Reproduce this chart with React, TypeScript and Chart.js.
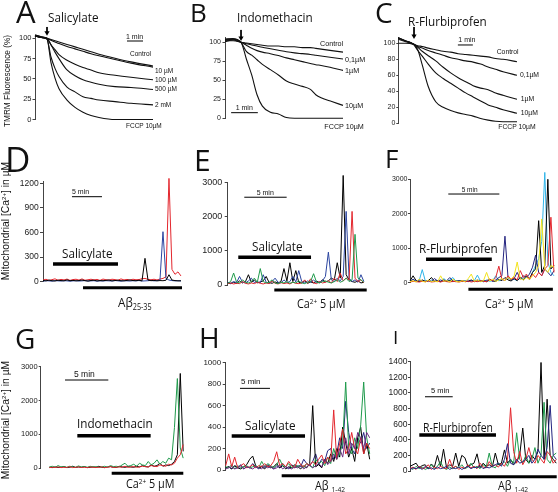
import React, { useEffect, useRef } from "react";
import { Chart, registerables } from "chart.js";

Chart.register(...registerables);

const PAGE_W = 558;
const PAGE_H = 492;
const AXIS_W = 30;
const FONT_OS = '"Open Sans", "Noto Sans", sans-serif';
const FONT_LS = '"Liberation Sans", Arial, Helvetica, sans-serif';

const RED = "#e3262d";
const GREEN = "#1e9a4b";
const BLUE = "#2b45a0";
const NAVY = "#23237f";
const YELLOW = "#f3e21b";
const CYAN = "#2fb4e8";
const PURPLE = "#6b2b80";
const BLACK = "#000000";

// ---------- Panel A: TMRM, salicylate ----------
const aTime = [0, 0.4, 0.75, 1, 1.25, 1.5, 2, 2.5, 3, 3.5, 4, 5, 6, 7.375];
const aControl = [104, 102, 100, 98.5, 97, 95.5, 92.5, 89.5, 86.5, 83.5, 80.5, 75.5, 71, 66];
const a10uM = [103, 101, 100, 97.5, 95.5, 93.5, 90, 87, 84, 81, 78.5, 74, 69.5, 64.5];
const a100uM = [103, 101, 100, 92, 86, 80, 73, 68, 64, 61, 57.5, 54.5, 52, 49];
const a500uM = [104, 102, 100, 92, 83, 75, 61, 54, 49, 46, 43.5, 40.5, 39.5, 37];
const a2mM = [103, 101, 99, 77, 63, 53, 40, 34, 28, 26, 24, 22, 20, 18];
const aFCCP = [103, 101, 99, 70, 51, 38, 24, 15, 9, 5, 2.5, 0, 0, 0];
const aTicks = [0, 25, 50, 75, 100];
const aArrow = [0.75, 114, 107];
const aMinBar = [5.75, 6.75, 96.7];

// ---------- Panel B: TMRM, indomethacin ----------
const bTime = [0, 0.3, 0.6, 0.8, 1.0, 1.2, 1.4, 1.7, 2.0, 2.3, 2.6, 2.9, 3.2, 3.4, 3.6, 4.0, 4.42];
const bControl = [101, 103, 100, 99, 98, 97, 96, 95, 95, 94, 94, 93, 93, 92, 91, 89, 87];
const b01uM = [102, 102, 100, 98, 96.5, 95, 93.5, 91.5, 89.5, 87.5, 86, 85, 84, 83, 82, 80, 78];
const b1uM = [103, 104, 100, 96, 92, 89, 87, 85, 82.5, 79.5, 77, 74.5, 72, 70.5, 69.5, 66.5, 63];
const b10uM = [104, 105, 100, 88, 83, 77, 71, 64, 57, 49, 45, 42, 38, 31, 27, 22, 17];
const bFCCP = [104, 104, 100, 78, 57, 31, 16, 8, 5.7, 1, 0, 0, 0, 0, 0, 0, 0];
const bTicks = [0, 25, 50, 75, 100];
const bArrow = [0.6, 116.2, 105.7];
const bMinBar = [0.23, 1.23, 7.4];

// ---------- Panel C: TMRM, R-flurbiprofen ----------
const cTime = [0, 0.5, 1.0, 1.3, 1.6, 2.0, 2.5, 3, 3.5, 4, 4.5, 5, 5.5, 6, 6.5, 7, 7.93];
const cControl = [100, 100, 99, 97, 96, 94, 92, 90, 89, 87, 86, 85, 84, 83, 81, 80, 77];
const c01uM = [105, 102, 99, 96, 94, 91, 88, 85, 82, 80, 78, 76.5, 74, 70.5, 67.5, 64.5, 60];
const c1uM = [107, 103, 99, 95, 90, 84.5, 78, 70, 63, 57, 52, 47, 44, 42, 38, 35, 30];
const c10uM = [106, 103, 99, 91, 84, 74, 63, 56, 50, 44, 38, 33, 28, 23, 20, 17, 12.5];
const cFCCP = [107, 103, 99, 92, 73, 46, 27, 20, 16, 13, 11, 9, 6, 4, 2.5, 2, 2];
const cTicks = [0, 20, 40, 60, 80, 100];
const cArrow = [1.05, 120.4, 109];
const cMinBar = [3.98, 4.98, 97.9];

// ---------- Panel D: Ca, salicylate + Abeta25-35 (sample 0.5 min) ----------
const dStart = 0;
const dStep = 0.5;
const dBlack = [15, 10, 20, 12, 8, 18, 14, 10, 22, 12, 16, 10, 14, 20, 12, 8, 15, 18, 10, 14, 12, 16, 20, 10, 14, 18, 12, 10, 16, 20, 14, 12, 18, 10, 285, 20, 12, 16, 10, 14, 12, 18, 85, 20, 14, 10, 12];
const dBlue = [8, 12, 10, 6, 14, 10, 8, 12, 10, 6, 10, 12, 8, 10, 14, 8, 10, 12, 6, 10, 8, 12, 10, 8, 14, 10, 6, 12, 10, 8, 12, 10, 14, 8, 10, 12, 16, 10, 14, 20, 610, 40, 20, 14, 10, 12, 8];
const dRed = [20, 30, 15, 25, 35, 18, 28, 22, 32, 16, 26, 30, 20, 34, 18, 24, 30, 22, 28, 16, 32, 24, 20, 30, 26, 18, 34, 22, 28, 20, 30, 24, 26, 36, 40, 28, 24, 30, 22, 32, 40, 60, 1260, 150, 90, 120, 70];
const dTicks = [0, 300, 600, 900, 1200];
const dScaleBar = [4.83, 9.83, 1037];
const dDrugBar = [1.67, 12.5, 216];
const dAbBar = [6.67, 23.17, -73];

// ---------- Panel E: Ca, salicylate + Ca 5 uM (sample 0.35 min) ----------
const eStart = 0;
const eStep = 0.35;
const eBlack = [60, 40, 80, 50, 120, 60, 100, 300, 80, 150, 60, 90, 120, 250, 70, 50, 90, 60, 100, 480, 120, 650, 100, 420, 80, 60, 120, 50, 90, 60, 110, 70, 150, 90, 120, 200, 150, 650, 200, 3200, 300, 150, 100, 80, 120, 60, 80];
const eBlue = [80, 50, 100, 70, 250, 80, 60, 120, 200, 70, 100, 60, 300, 80, 50, 100, 200, 80, 60, 150, 70, 100, 250, 90, 420, 100, 60, 120, 80, 150, 60, 90, 120, 250, 960, 150, 100, 200, 120, 250, 2150, 200, 100, 150, 80, 300, 100];
const eRed = [40, 60, 30, 50, 40, 100, 50, 30, 60, 40, 80, 50, 30, 60, 40, 120, 50, 30, 70, 40, 60, 30, 80, 50, 40, 60, 150, 50, 180, 60, 40, 100, 60, 80, 120, 60, 200, 100, 350, 120, 200, 150, 2150, 200, 100, 150, 60];
const eGreen = [50, 100, 350, 80, 60, 150, 80, 60, 100, 200, 80, 480, 100, 60, 80, 150, 60, 40, 80, 60, 100, 50, 80, 60, 120, 60, 40, 80, 100, 330, 80, 60, 100, 120, 80, 60, 100, 150, 80, 120, 200, 100, 150, 1480, 200, 150, 80];
const eTicks = [0, 1000, 2000, 3000];
const eScaleBar = [1.96, 6.97, 2564];
const eDrugBar = [1.25, 9.85, 810];
const eCaBar = [5.51, 16.43, -146];

// ---------- Panel F: Ca, R-flurbiprofen + Ca 5 uM (sample 0.3 min) ----------
const fStart = 0;
const fStep = 0.3;
const fBlack = [50, 200, 60, 30, 80, 40, 60, 150, 40, 60, 30, 80, 40, 60, 30, 50, 40, 60, 30, 40, 80, 30, 50, 40, 60, 30, 80, 50, 40, 100, 60, 150, 80, 50, 120, 60, 150, 80, 200, 100, 300, 400, 1800, 300, 500, 3000, 400, 500];
const fNavy = [30, 100, 40, 80, 50, 30, 60, 40, 120, 50, 80, 40, 60, 150, 50, 30, 60, 40, 50, 30, 60, 40, 80, 50, 30, 60, 100, 40, 80, 150, 200, 1350, 150, 80, 120, 300, 100, 200, 150, 250, 450, 800, 300, 200, 400, 300, 200, 350];
const fRed = [20, 40, 30, 20, 40, 30, 50, 20, 30, 40, 20, 50, 30, 20, 40, 30, 20, 40, 30, 50, 20, 40, 30, 60, 40, 30, 100, 60, 150, 480, 100, 60, 200, 100, 150, 80, 350, 150, 250, 100, 250, 150, 300, 200, 400, 500, 1900, 300];
const fYellow = [30, 60, 20, 100, 40, 20, 80, 30, 50, 20, 200, 40, 60, 20, 100, 40, 20, 60, 30, 120, 250, 40, 80, 30, 60, 300, 50, 100, 40, 80, 120, 60, 150, 100, 200, 600, 120, 80, 150, 100, 200, 300, 500, 1850, 400, 300, 500, 450];
const fCyan = [40, 100, 30, 60, 380, 50, 30, 80, 40, 60, 30, 120, 50, 80, 150, 40, 60, 30, 50, 80, 40, 60, 220, 50, 30, 80, 40, 60, 200, 50, 100, 60, 150, 80, 100, 60, 150, 100, 200, 120, 300, 500, 700, 1200, 3200, 600, 300, 200];
const fTicks = [0, 1000, 2000, 3000];
const fScaleBar = [3.75, 8.75, 2573];
const fDrugBar = [1.57, 8.01, 679];
const fCaBar = [5.72, 13.99, -191];

// ---------- Panel G: Ca, indomethacin + Ca 5 uM (sample 0.336 min from 1 min) ----------
const gStart = 1.0;
const gStep = 0.336;
const gBlack = [30, 20, 40, 25, 30, 50, 20, 30, 60, 25, 40, 30, 50, 20, 30, 40, 25, 60, 30, 20, 40, 50, 30, 25, 60, 40, 30, 50, 40, 30, 60, 40, 80, 50, 40, 100, 60, 80, 150, 60, 100, 80, 120, 200, 400, 2800, 500];
const gRed = [20, 30, 25, 40, 20, 30, 25, 50, 20, 30, 40, 25, 30, 20, 40, 30, 25, 30, 40, 20, 30, 50, 25, 30, 40, 30, 60, 30, 40, 50, 30, 40, 60, 50, 40, 80, 60, 50, 100, 80, 60, 120, 100, 150, 300, 400, 700];
const gGreen = [40, 60, 30, 80, 40, 50, 30, 60, 40, 30, 70, 40, 50, 30, 60, 40, 50, 30, 40, 60, 30, 80, 50, 60, 40, 100, 150, 60, 80, 120, 60, 150, 100, 80, 200, 100, 150, 250, 120, 200, 150, 300, 250, 1200, 2650, 600, 300];
const gTicks = [0, 1000, 2000, 3000];
const gScaleBar = [2.81, 7.81, 2607];
const gDrugBar = [4.23, 12.7, 962];
const gCaBar = [8.2, 16.47, -148];

// ---------- Panel H: Ca, salicylate + Abeta1-42 (sample 0.5 min) ----------
const hStart = 0;
const hStep = 0.5;
const hBlack = [20, 30, 10, 40, 20, 10, 30, 50, 100, 130, 40, 20, 30, 10, 40, 20, 30, 60, 20, 40, 10, 30, 20, 50, 30, 10, 40, 20, 60, 600, 30, 50, 20, 100, 60, 150, 80, 200, 120, 400, 250, 120, 200, 80, 300, 400, 150, 250, 100];
const hRed = [40, 150, 30, 120, 20, 40, 60, 20, 30, 50, 20, 40, 30, 60, 30, 40, 80, 170, 40, 60, 30, 80, 40, 20, 100, 50, 30, 60, 40, 80, 50, 100, 140, 60, 120, 80, 560, 100, 250, 380, 150, 200, 350, 200, 150, 300, 150, 250, 200];
const hGreen = [30, 20, 50, 10, 40, 20, 30, 40, 20, 30, 40, 20, 80, 30, 60, 40, 20, 50, 100, 40, 30, 60, 20, 40, 30, 50, 20, 60, 40, 20, 100, 60, 80, 40, 120, 60, 200, 100, 150, 250, 820, 200, 150, 300, 200, 420, 820, 300, 150];
const hBlue = [20, 30, 10, 40, 20, 50, 10, 30, 20, 60, 30, 10, 40, 20, 50, 30, 10, 40, 20, 60, 30, 10, 50, 20, 40, 30, 100, 60, 40, 80, 150, 50, 100, 80, 180, 200, 100, 150, 300, 200, 640, 350, 200, 150, 300, 250, 350, 200, 250];
const hPurple = [10, 20, 30, 10, 20, 40, 10, 30, 20, 10, 30, 20, 10, 40, 20, 30, 10, 20, 40, 10, 30, 20, 10, 30, 20, 40, 10, 30, 50, 20, 40, 60, 30, 100, 50, 80, 150, 100, 200, 120, 300, 150, 250, 200, 350, 300, 200, 350, 300];
const hTicks = [0, 200, 400, 600, 800, 1000];
const hScaleBar = [2.38, 7.38, 761];
const hDrugBar = [1.0, 13.22, 317];
const hAbBar = [9.33, 24.05, -53];

// ---------- Panel I: Ca, R-flurbiprofen + Abeta1-42 (sample 0.55 min) ----------
const iStart = 0;
const iStep = 0.55;
const iBlack = [60, 80, 100, 40, 70, 80, 30, 90, 50, 200, 60, 280, 40, 80, 60, 230, 60, 200, 170, 60, 80, 100, 220, 40, 100, 60, 80, 50, 230, 80, 100, 270, 100, 150, 80, 120, 200, 550, 150, 100, 200, 150, 250, 1390, 150, 920, 200, 150, 100];
const iRed = [30, 50, 20, 60, 30, 40, 80, 20, 50, 30, 60, 40, 30, 150, 40, 60, 20, 50, 30, 80, 40, 60, 30, 100, 50, 40, 120, 60, 80, 50, 100, 60, 150, 810, 250, 100, 250, 80, 150, 300, 150, 100, 200, 150, 100, 250, 200, 100, 150];
const iGreen = [40, 20, 60, 30, 50, 20, 40, 80, 30, 60, 120, 40, 20, 50, 30, 60, 40, 80, 30, 50, 100, 40, 60, 30, 80, 50, 230, 60, 40, 100, 80, 120, 60, 150, 100, 490, 150, 100, 200, 100, 150, 300, 100, 200, 880, 150, 100, 200, 230];
const iBlue = [20, 40, 30, 50, 20, 60, 30, 40, 20, 50, 30, 40, 60, 20, 40, 30, 50, 20, 40, 60, 30, 50, 40, 70, 30, 50, 40, 60, 80, 100, 60, 150, 350, 100, 80, 150, 100, 120, 150, 200, 100, 150, 280, 200, 150, 300, 840, 200, 150];
const iTicks = [0, 200, 400, 600, 800, 1000, 1200, 1400];
const iScaleBar = [2.71, 7.71, 951];
const iDrugBar = [1.68, 15.52, 461];
const iAbBar = [8.9, 26.48, -73];

// ---------- helpers ----------
const series = (times: number[], values: number[]) => values.map((y, i) => ({ x: times[i], y }));
const sampled = (t0: number, dt: number, values: number[]) => values.map((y, i) => ({ x: t0 + dt * i, y }));

const curve = (times: number[], values: number[]) => ({
  data: series(times, values),
  borderColor: "#111",
  backgroundColor: "#111",
  borderWidth: 1.1,
  pointRadius: 0,
  cubicInterpolationMode: "monotone",
  clip: false,
});

const trace = (t0: number, dt: number, values: number[], color: string) => ({
  data: sampled(t0, dt, values),
  borderColor: color,
  backgroundColor: color,
  borderWidth: 1,
  pointRadius: 0,
  clip: false,
});

const hbar = (bar: number[], width: number) => ({
  data: [
    { x: bar[0], y: bar[2] },
    { x: bar[1], y: bar[2] },
  ],
  borderColor: "#000",
  backgroundColor: "#000",
  borderWidth: width,
  borderCapStyle: "butt",
  pointRadius: 0,
  clip: false,
});

const arrow = (a: number[]) => ({
  data: [
    { x: a[0], y: a[1] },
    { x: a[0], y: a[2] },
  ],
  borderColor: "#000",
  backgroundColor: "#000",
  borderWidth: 1,
  pointRadius: [0, 3],
  pointStyle: "triangle",
  pointRotation: 180,
  pointBorderWidth: 0,
  pointBackgroundColor: "#000",
  clip: false,
});

type Area = { l: number; t: number; r: number; b: number };
type Spec = {
  id: string;
  area: Area;
  xMax: number;
  yMax: number;
  ticks: number[];
  tickSize: number;
  tickLen: number;
  tickPad: number;
  datasets: any[];
};

const specs: Spec[] = [
  {
    id: "A",
    area: { l: 35, t: 35.9, r: 153, b: 119.5 },
    xMax: 7.375,
    yMax: 103,
    ticks: aTicks,
    tickSize: 7.5,
    tickLen: 2.5,
    tickPad: 1,
    datasets: [
      curve(aTime, aControl),
      curve(aTime, a10uM),
      curve(aTime, a100uM),
      curve(aTime, a500uM),
      curve(aTime, a2mM),
      curve(aTime, aFCCP),
      arrow(aArrow),
      hbar(aMinBar, 1),
    ],
  },
  {
    id: "B",
    area: { l: 225, t: 37.7, r: 343, b: 118.3 },
    xMax: 4.42,
    yMax: 106,
    ticks: bTicks,
    tickSize: 7,
    tickLen: 2.5,
    tickPad: 1.5,
    datasets: [
      curve(bTime, bControl),
      curve(bTime, b01uM),
      curve(bTime, b1uM),
      curve(bTime, b10uM),
      curve(bTime, bFCCP),
      arrow(bArrow),
      hbar(bMinBar, 1),
    ],
  },
  {
    id: "C",
    area: { l: 398.3, t: 37.7, r: 517, b: 123.3 },
    xMax: 7.93,
    yMax: 107,
    ticks: cTicks,
    tickSize: 7,
    tickLen: 2,
    tickPad: 1,
    datasets: [
      curve(cTime, cControl),
      curve(cTime, c01uM),
      curve(cTime, c1uM),
      curve(cTime, c10uM),
      curve(cTime, cFCCP),
      arrow(cArrow),
      hbar(cMinBar, 1),
    ],
  },
  {
    id: "D",
    area: { l: 43, t: 181.7, r: 182, b: 281.7 },
    xMax: 23.17,
    yMax: 1220,
    ticks: dTicks,
    tickSize: 8.5,
    tickLen: 3,
    tickPad: 1.3,
    datasets: [
      trace(dStart, dStep, dBlack, BLACK),
      trace(dStart, dStep, dBlue, BLUE),
      trace(dStart, dStep, dRed, RED),
      hbar(dScaleBar, 1),
      hbar(dDrugBar, 3.5),
      hbar(dAbBar, 3),
    ],
  },
  {
    id: "E",
    area: { l: 227.7, t: 182.3, r: 366.7, b: 285 },
    xMax: 16.43,
    yMax: 3000,
    ticks: eTicks,
    tickSize: 9,
    tickLen: 3,
    tickPad: 2.5,
    datasets: [
      trace(eStart, eStep, eGreen, GREEN),
      trace(eStart, eStep, eRed, RED),
      trace(eStart, eStep, eBlue, BLUE),
      trace(eStart, eStep, eBlack, BLACK),
      hbar(eScaleBar, 1),
      hbar(eDrugBar, 3.5),
      hbar(eCaBar, 3),
    ],
  },
  {
    id: "F",
    area: { l: 410, t: 179.3, r: 555, b: 282.7 },
    xMax: 14.2,
    yMax: 3000,
    ticks: fTicks,
    tickSize: 7,
    tickLen: 2,
    tickPad: 0.5,
    datasets: [
      trace(fStart, fStep, fYellow, YELLOW),
      trace(fStart, fStep, fRed, RED),
      trace(fStart, fStep, fNavy, NAVY),
      trace(fStart, fStep, fBlack, BLACK),
      trace(fStart, fStep, fCyan, CYAN),
      hbar(fScaleBar, 1),
      hbar(fDrugBar, 3.5),
      hbar(fCaBar, 3),
    ],
  },
  {
    id: "G",
    area: { l: 40.7, t: 366.7, r: 183.3, b: 468.3 },
    xMax: 16.47,
    yMax: 3000,
    ticks: gTicks,
    tickSize: 7.5,
    tickLen: 2,
    tickPad: 1,
    datasets: [
      trace(gStart, gStep, gRed, RED),
      trace(gStart, gStep, gGreen, GREEN),
      trace(gStart, gStep, gBlack, BLACK),
      hbar(gScaleBar, 1),
      hbar(gDrugBar, 3.5),
      hbar(gCaBar, 3),
    ],
  },
  {
    id: "H",
    area: { l: 225.7, t: 362.7, r: 370, b: 470 },
    xMax: 24.05,
    yMax: 1000,
    ticks: hTicks,
    tickSize: 8,
    tickLen: 3,
    tickPad: 1.5,
    datasets: [
      trace(hStart, hStep, hPurple, PURPLE),
      trace(hStart, hStep, hRed, RED),
      trace(hStart, hStep, hGreen, GREEN),
      trace(hStart, hStep, hBlack, BLACK),
      trace(hStart, hStep, hBlue, NAVY),
      hbar(hScaleBar, 1),
      hbar(hDrugBar, 3.5),
      hbar(hAbBar, 3),
    ],
  },
  {
    id: "I",
    area: { l: 410, t: 361.7, r: 556.7, b: 471 },
    xMax: 26.48,
    yMax: 1400,
    ticks: iTicks,
    tickSize: 8.5,
    tickLen: 2,
    tickPad: 0.5,
    datasets: [
      trace(iStart, iStep, iBlue, NAVY),
      trace(iStart, iStep, iRed, RED),
      trace(iStart, iStep, iGreen, GREEN),
      trace(iStart, iStep, iBlack, BLACK),
      hbar(iScaleBar, 1),
      hbar(iDrugBar, 3.5),
      hbar(iAbBar, 3),
    ],
  },
];

function Panel({ spec }: { spec: Spec }) {
  const ref = useRef<HTMLCanvasElement | null>(null);
  useEffect(() => {
    const { area } = spec;
    const chart = new Chart(ref.current as HTMLCanvasElement, {
      type: "line",
      data: { datasets: spec.datasets as any },
      options: {
        responsive: false,
        animation: false,
        events: [],
        layout: {
          padding: {
            left: area.l - AXIS_W,
            top: area.t,
            right: PAGE_W - area.r,
            bottom: PAGE_H - area.b,
          },
        },
        plugins: { legend: { display: false }, tooltip: { enabled: false } },
        scales: {
          x: { type: "linear", display: false, min: 0, max: spec.xMax },
          y: {
            type: "linear",
            min: 0,
            max: spec.yMax,
            afterBuildTicks: (s: any) => {
              s.ticks = spec.ticks.map((v) => ({ value: v }));
            },
            afterFit: (s: any) => {
              s.width = AXIS_W;
            },
            grid: {
              drawOnChartArea: false,
              drawTicks: true,
              tickLength: spec.tickLen,
              color: "#444",
              lineWidth: 1,
            },
            border: { display: true, color: "#444", width: 1 },
            ticks: {
              font: { size: spec.tickSize, family: FONT_LS },
              color: "#222",
              padding: spec.tickPad,
              callback: (v: any) => String(v),
            },
          },
        },
      } as any,
    });
    return () => chart.destroy();
  }, [spec]);
  return (
    <canvas
      ref={ref}
      width={PAGE_W}
      height={PAGE_H}
      style={{ position: "absolute", left: 0, top: 0, width: PAGE_W, height: PAGE_H }}
    />
  );
}

function Txt(props: {
  x: number;
  base: number;
  size: number;
  ls?: boolean;
  sx?: number;
  children: React.ReactNode;
}) {
  const { x, base, size, ls, sx, children } = props;
  const asc = ls ? 0.8465 : 0.888;
  return (
    <div
      style={{
        position: "absolute",
        left: x,
        top: base - asc * size,
        fontSize: size,
        lineHeight: `${size}px`,
        fontFamily: ls ? FONT_LS : FONT_OS,
        whiteSpace: "nowrap",
        color: "#111",
        transform: sx && sx !== 1 ? `scaleX(${sx})` : undefined,
        transformOrigin: "0 0",
      }}
    >
      {children}
    </div>
  );
}

function VTitle(props: { cx: number; cy: number; size: number; children: React.ReactNode }) {
  const { cx, cy, size, children } = props;
  return (
    <div
      style={{
        position: "absolute",
        left: cx,
        top: cy,
        transform: "translate(-50%, -50%) rotate(-90deg)",
        fontSize: size,
        lineHeight: `${size}px`,
        fontFamily: FONT_LS,
        whiteSpace: "nowrap",
        color: "#111",
      }}
    >
      {children}
    </div>
  );
}

const Sup = ({ children }: { children: React.ReactNode }) => (
  <span style={{ fontSize: "0.6em", position: "relative", top: "-0.55em" }}>{children}</span>
);
const Sub = ({ children }: { children: React.ReactNode }) => (
  <span style={{ fontSize: "0.62em", position: "relative", top: "0.3em" }}>{children}</span>
);

export default function App() {
  return (
    <div
      style={{
        position: "absolute",
        left: 0,
        top: 0,
        width: PAGE_W,
        height: PAGE_H,
        background: "#fff",
        overflow: "hidden",
      }}
    >
      {specs.map((s) => (
        <Panel key={s.id} spec={s} />
      ))}

      {/* panel letters */}
      <Txt x={16} base={24} size={31}>A</Txt>
      <Txt x={190} base={22} size={26}>B</Txt>
      <Txt x={375} base={23} size={28}>C</Txt>
      <Txt x={5} base={172} size={35}>D</Txt>
      <Txt x={194} base={171.7} size={30}>E</Txt>
      <Txt x={385} base={168.3} size={26}>F</Txt>
      <Txt x={15} base={349} size={28}>G</Txt>
      <Txt x={199} base={348.3} size={28}>H</Txt>
      <Txt x={393} base={345} size={19}>I</Txt>

      {/* y titles */}
      <VTitle cx={6.5} cy={81} size={8.3}>TMRM Fluorescence (%)</VTitle>
      <VTitle cx={7} cy={221} size={10.3}>
        Mitochondrial [Ca<Sup>2+</Sup>] in µM
      </VTitle>
      <VTitle cx={7} cy={420} size={10.3}>
        Mitochondrial [Ca<Sup>2+</Sup>] in µM
      </VTitle>

      {/* drug names */}
      <Txt x={48} base={22.5} size={13} sx={0.9}>Salicylate</Txt>
      <Txt x={236.7} base={22.7} size={13} sx={0.9}>Indomethacin</Txt>
      <Txt x={408.3} base={26.5} size={13} sx={0.9}>R-Flurbiprofen</Txt>
      <Txt x={62} base={259} size={13} sx={0.9}>Salicylate</Txt>
      <Txt x={251.7} base={251.5} size={13} sx={0.9}>Salicylate</Txt>
      <Txt x={419} base={254} size={13} sx={0.9}>R-Flurbiprofen</Txt>
      <Txt x={76.7} base={429} size={13} sx={0.9}>Indomethacin</Txt>
      <Txt x={245} base={431} size={13} sx={0.9}>Salicylate</Txt>
      <Txt x={423} base={432.7} size={13} sx={0.8}>R-Flurbiprofen</Txt>

      {/* second-stimulus labels */}
      <Txt x={118} base={308} size={13} sx={0.9}>
        Aβ<Sub>25-35</Sub>
      </Txt>
      <Txt x={297} base={308.5} size={12} sx={0.9}>
        Ca<Sup>2+</Sup> 5 µM
      </Txt>
      <Txt x={485} base={308.5} size={12} sx={0.9}>
        Ca<Sup>2+</Sup> 5 µM
      </Txt>
      <Txt x={126} base={489} size={12} sx={0.9}>
        Ca<Sup>2+</Sup> 5 µM
      </Txt>
      <Txt x={315} base={490.5} size={12} sx={0.9}>
        Aβ <Sub>1-42</Sub>
      </Txt>
      <Txt x={498.3} base={490.5} size={12} sx={0.9}>
        Aβ <Sub>1-42</Sub>
      </Txt>

      {/* time scale labels */}
      <Txt ls x={126} base={39} size={7}>1 min</Txt>
      <Txt ls x={235.7} base={110} size={7}>1 min</Txt>
      <Txt ls x={458.3} base={42.3} size={7}>1 min</Txt>
      <Txt ls x={72} base={194} size={7}>5 min</Txt>
      <Txt ls x={256.7} base={195} size={7}>5 min</Txt>
      <Txt ls x={461.7} base={192.3} size={6.5}>5 min</Txt>
      <Txt ls x={74} base={377.3} size={8.5}>5 min</Txt>
      <Txt ls x={241} base={385} size={8}>5 min</Txt>
      <Txt ls x={431} base={393.3} size={7.5}>5 min</Txt>

      {/* curve labels A */}
      <Txt ls x={130} base={56.7} size={6.5}>Control</Txt>
      <Txt ls x={155} base={73.3} size={6.5}>10 µM</Txt>
      <Txt ls x={155} base={82.7} size={6.5}>100 µM</Txt>
      <Txt ls x={155} base={91.5} size={6.5}>500 µM</Txt>
      <Txt ls x={155} base={107.2} size={6.5}>2 mM</Txt>
      <Txt ls x={126} base={128.7} size={6.5}>FCCP 10µM</Txt>

      {/* curve labels B */}
      <Txt ls x={320} base={45.7} size={7.2}>Control</Txt>
      <Txt ls x={345} base={62.3} size={7.2}>0,1µM</Txt>
      <Txt ls x={345} base={73.3} size={7.2}>1µM</Txt>
      <Txt ls x={345} base={107.7} size={7.2}>10µM</Txt>
      <Txt ls x={324.3} base={129} size={7.2}>FCCP 10µM</Txt>

      {/* curve labels C */}
      <Txt ls x={496.7} base={54.3} size={6.8}>Control</Txt>
      <Txt ls x={520} base={77.7} size={6.8}>0,1µM</Txt>
      <Txt ls x={520.7} base={101.7} size={6.8}>1µM</Txt>
      <Txt ls x={520.7} base={115.7} size={6.8}>10µM</Txt>
      <Txt ls x={498.3} base={130} size={6.8}>FCCP 10µM</Txt>
    </div>
  );
}
